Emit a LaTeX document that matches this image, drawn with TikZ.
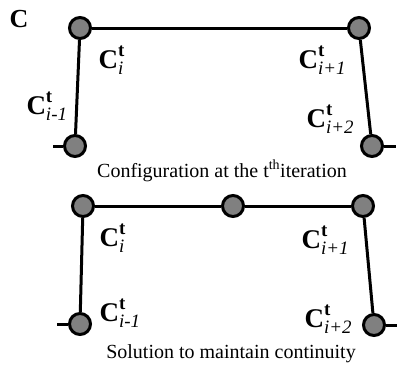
\documentclass[tikz,border=0pt]{standalone}
\usepackage{amsmath}
\usepackage{fontspec}
\setmainfont{Liberation Serif}
\usepackage{tikz}
\usetikzlibrary{positioning}
\definecolor{knotgray}{RGB}{128,128,128}
\newcommand{\Ct}[1]{$\textbf{C}^{\textbf{t}}_{\textit{#1}}$}

\begin{document}
\begin{tikzpicture}[x=1pt,y=-1pt,line width=3pt,
  knot/.style={circle,draw,fill=knotgray,minimum size=21pt,inner sep=0pt},
  lab/.style={anchor=base west,inner sep=0pt,font=\fontsize{27}{29}\selectfont},
  caption/.style={anchor=base,inner sep=0pt,font=\fontsize{20}{22}\selectfont}]
\useasboundingbox (0,0) rectangle (398,364);
\node[anchor=base west,inner sep=0pt,font=\fontsize{26}{28}\selectfont\bfseries] (tag) at (8,27) {C};
% configuration at the t-th iteration
\node[knot] (a0) at (75,146) {};
\node[knot] (a1) at (80,28) {};
\node[knot] (a2) at (359,28) {};
\node[knot] (a3) at (372,146) {};
\coordinate (al) at (53,146);
\coordinate (ar) at (396,146);
\draw (al) -- (a0);
\draw (a0) -- (a1);
\draw (a1) -- (a2);
\draw (a2) -- (a3);
\draw (a3) -- (ar);
\node[lab] (la1) at (97,68) {\Ct{i}};
\node[lab] (la0) at (25,114) {\Ct{i-1}};
\node[lab] (la2) at (297,68) {\Ct{i+1}};
\node[lab] (la3) at (305,127) {\Ct{i+2}};
\node[caption] (capa) at (222,177) {Configuration at the t\textsuperscript{th}iteration};
% solution
\node[knot] (b0) at (80,324) {};
\node[knot] (b1) at (83,206) {};
\node[knot] (bm) at (233,206) {};
\node[knot] (b2) at (363,206) {};
\node[knot] (b3) at (374,325) {};
\coordinate (bl) at (57,324);
\coordinate (br) at (397,325);
\draw (bl) -- (b0);
\draw (b0) -- (b1);
\draw (b1) -- (bm);
\draw (bm) -- (b2);
\draw (b2) -- (b3);
\draw (b3) -- (br);
\node[lab] (lb1) at (98,246) {\Ct{i}};
\node[lab] (lb0) at (98,321) {\Ct{i-1}};
\node[lab] (lb2) at (300,248) {\Ct{i+1}};
\node[lab] (lb3) at (303,327) {\Ct{i+2}};
\node[caption] (capb) at (231,358) {Solution to maintain continuity};
\end{tikzpicture}
\end{document}
